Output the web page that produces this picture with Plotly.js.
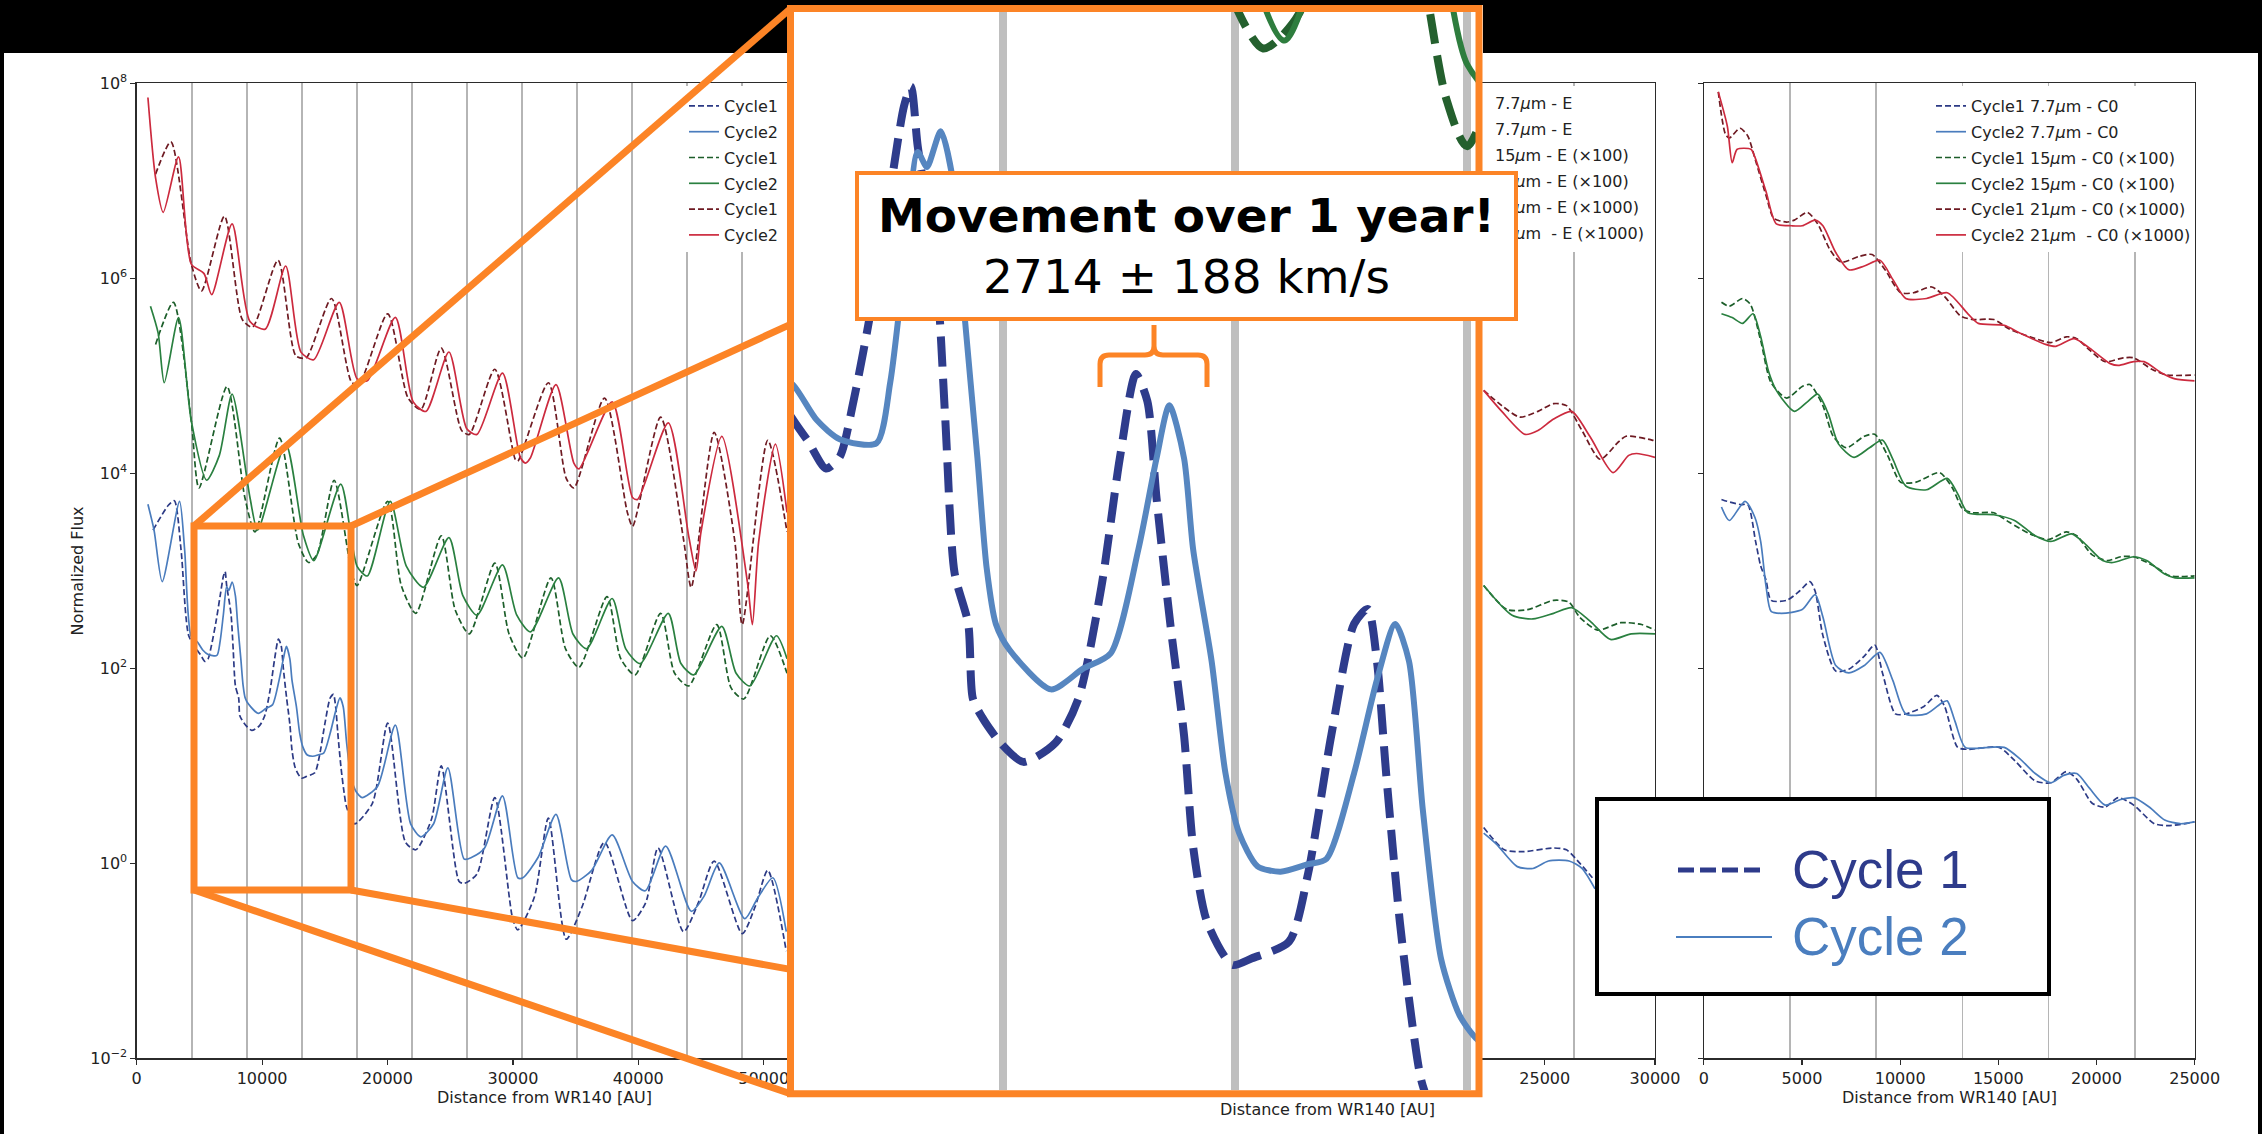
<!DOCTYPE html>
<html><head><meta charset="utf-8">
<script src="https://cdn.plot.ly/plotly-3.0.1.min.js"></script>
<style>html,body{margin:0;padding:0;background:#000;}#chart{width:2262px;height:1134px;}</style>
</head><body><div id="chart"></div>
<script>
// ---------- DATA (x: distance from WR140 in AU, y: log10 of normalized flux) ----------
// Left panel
const L_c1_77_x = [1302,2522,3000,3539,4150,4831,5090,5440,5699,5960,6307,6655,6916,7047,7175,7521,7697,7872,8131,8218,8392,8740,9173,9782,10216,10651,10999,11302,11519,11694,11954,12214,12388,12649,13126,13500,14200,14560,15000,15432,15690,15864,16037,16297,16558,16732,17370,18794,20015,21439,22252,23500,24287,25710,26117,27134,28558,29982,30388,31700,32829,34253,35500,37303,39540,40600,41575,43609,44800,46050,48288,49300,50321,51800];
const L_c1_77_y = [3.419,3.673,3.72,3.214,2.336,2.187,2.14,2.072,2.10,2.235,2.466,2.744,2.947,2.994,2.85,2.558,2.19,1.82,1.697,1.517,1.472,1.41,1.364,1.41,1.517,1.787,2.097,2.30,2.235,2.0,1.697,1.428,1.157,0.978,0.874,0.89,0.93,1.094,1.428,1.697,1.733,1.607,1.337,0.978,0.708,0.582,0.406,0.616,1.438,0.216,0.14,0.45,1.0,-0.185,-0.205,-0.109,0.674,-0.567,-0.682,-0.35,0.464,-0.778,-0.45,0.216,-0.587,-0.4,0.158,-0.701,-0.4,0.024,-0.72,-0.45,-0.071,-0.9];
const L_c2_77_x = [895,1383,2034,3417,3824,4353,4831,5265,5699,6394,6655,6916,7175,7349,7610,7872,8044,8305,8479,8653,8914,9695,10303,10825,11350,11694,11936,12214,12386,12736,12997,13254,13605,14040,14560,14909,15432,15866,16210,16470,16732,17080,17427,17731,17981,19201,20625,21846,22659,23676,24815,26117,26727,27744,29168,30388,30795,32015,33438,34659,35066,36287,37914,39540,40557,42185,44219,45235,46457,48491,49500,50729,51800];
const L_c2_77_y = [3.683,3.419,2.89,3.714,3.214,2.32,2.272,2.189,2.143,2.133,2.28,2.558,2.836,2.80,2.886,2.744,2.466,2.097,1.832,1.697,1.634,1.539,1.589,1.626,1.877,2.097,2.225,2.097,1.877,1.607,1.337,1.193,1.112,1.099,1.117,1.13,1.337,1.563,1.697,1.607,1.248,0.887,0.752,0.698,0.674,0.789,1.419,0.406,0.273,0.407,0.98,0.044,0.063,0.158,0.693,-0.147,-0.147,0.063,0.502,-0.166,-0.185,-0.071,0.292,-0.185,-0.281,0.177,-0.491,-0.338,0.005,-0.567,-0.36,-0.147,-0.7];
const L_c1_15_x = [1505,2929,4353,4963,7200,8624,9438,11391,12896,13710,14390,15744,17167,17574,20015,21100,22252,24287,25400,26524,28558,29700,30795,33032,34200,35269,37507,38600,39744,41778,42900,44015,46253,47400,48409,50525,51858];
const L_c1_15_y = [5.323,5.755,4.538,3.851,4.891,3.753,3.4,4.361,3.282,3.086,3.17,3.93,2.968,2.85,3.714,2.85,2.565,3.36,2.6,2.355,3.08,2.35,2.106,2.928,2.2,2.011,2.736,2.1,1.934,2.565,1.95,1.82,2.45,1.8,1.686,2.335,1.95];
const L_c2_15_x = [1098,1708,2197,3336,4353,5574,6590,7607,9031,9641,11879,13302,14116,16272,17574,18388,20218,21500,22862,24898,26000,27134,29168,30300,31405,33642,34800,35880,37914,39000,40151,42388,43400,44422,46660,47800,48898,51013,51858];
const L_c2_15_y = [5.715,5.441,4.93,5.598,4.538,3.93,4.185,4.813,3.753,3.419,4.302,3.36,3.105,3.89,3.047,2.948,3.714,3.05,2.832,3.341,2.75,2.546,3.061,2.55,2.374,2.928,2.35,2.202,2.717,2.2,2.049,2.565,2.05,1.934,2.431,1.95,1.82,2.335,2.1];
const L_c1_21_x = [1505,2726,4353,5167,6997,8421,9235,11269,12693,13506,15540,17167,17777,20015,21642,22659,24287,25914,26524,28558,30185,30388,32829,34253,34863,37303,39134,39540,41778,43609,44219,46050,47700,48288,50321,51858];
const L_c1_21_y = [7.07,7.40,6.147,5.872,6.638,5.578,5.5,6.186,5.205,5.185,5.794,4.93,4.93,5.637,4.773,4.656,5.284,4.44,4.4,5.068,4.145,4.126,4.93,3.95,3.851,4.773,3.596,3.458,4.577,3.321,2.831,4.42,3.3,2.45,4.34,3.4];
const L_c2_21_x = [895,1505,2115,3336,4353,5370,5980,7607,9031,10251,11879,13099,14116,16150,17574,18388,20625,22050,23067,24898,26320,27134,29168,30591,30998,31400,33438,34862,35269,37913,39540,39947,42388,44015,44600,45000,46660,48695,49100,49600,50933,51858];
const L_c2_21_y = [7.855,7.03,6.677,7.246,6.147,6.049,5.833,6.559,5.558,5.48,6.127,5.244,5.166,5.755,4.97,4.95,5.6,4.734,4.636,5.245,4.459,4.4,5.028,4.165,4.106,4.16,4.91,4.106,4.047,4.734,3.753,3.733,4.518,3.36,3.0,3.4,4.38,2.89,2.45,3.3,4.3,3.6];

// Middle panel (visible part only)
const M_c1_77_x = [22231,23170,23991,25401,25986,26576,27161];
const M_c1_77_y = [0.368,0.139,0.12,0.158,0.139,0.005,-0.147];
const M_c2_77_x = [22231,22818,23756,24463,25167,26104,26689,27279];
const M_c2_77_y = [0.311,0.196,-0.033,-0.052,0.025,0.025,-0.052,-0.262];
const M_c1_15_x = [22231,23288,24227,25401,26104,26576,27397,28454,29394,30000];
const M_c1_15_y = [2.851,2.603,2.603,2.698,2.679,2.527,2.393,2.469,2.45,2.393];
const M_c2_15_x = [22231,23520,24463,25401,26222,27043,27982,28924,30000];
const M_c2_15_y = [2.851,2.546,2.507,2.565,2.622,2.488,2.297,2.355,2.355];
const M_c1_21_x = [22231,23052,23873,24694,25401,25986,26689,27513,28336,28685,29864,30000];
const M_c1_21_y = [4.852,4.695,4.577,4.636,4.715,4.695,4.44,4.145,4.322,4.381,4.342,4.33];
const M_c2_21_x = [22231,23052,24109,24694,25401,26222,27043,28100,28807,29156,30000];
const M_c2_21_y = [4.852,4.636,4.4,4.44,4.557,4.636,4.381,4.008,4.185,4.204,4.165];

// Right panel
const R_c1_77_x = [900,1182,1900,2240,2640,2898,3165,3428,4220,4880,5405,5668,6066,6720,7385,8174,8704,9100,9760,10286,11210,11870,12265,12925,13450,15035,15824,16878,17670,18462,18992,19780,20440,21100,21890,22950,23738,25000];
const R_c1_77_y = [3.733,3.714,3.68,3.68,3.3,3.05,2.908,2.698,2.698,2.794,2.89,2.794,2.336,1.973,1.992,2.126,2.24,1.954,1.533,1.533,1.61,1.724,1.61,1.19,1.17,1.19,1.056,0.846,0.827,0.941,0.865,0.617,0.578,0.674,0.598,0.407,0.388,0.426];
const R_c2_77_x = [900,1300,2100,2600,2898,3165,3428,3957,5011,5668,6066,6720,7385,8174,8969,9625,10286,11342,12132,12397,12793,13318,14505,15299,16090,16878,17670,18330,18992,19650,20440,21230,21890,22684,23470,24262,25000];
const R_c2_77_y = [3.655,3.517,3.714,3.55,3.3,2.85,2.584,2.565,2.603,2.756,2.527,2.03,1.954,2.03,2.164,1.877,1.533,1.533,1.648,1.667,1.457,1.19,1.19,1.19,1.075,0.922,0.827,0.903,0.922,0.769,0.598,0.655,0.674,0.578,0.445,0.407,0.426];
const R_c1_15_x = [900,1300,1975,2370,2898,3428,4220,5011,5405,6066,6590,7253,8174,8704,9360,10023,10810,12000,12661,13186,13715,14770,15560,16615,17540,18462,18992,19780,20570,21230,21890,22950,23738,25000];
const R_c1_15_y = [5.755,5.715,5.794,5.735,5.362,4.93,4.773,4.891,4.911,4.695,4.381,4.263,4.381,4.401,4.185,3.91,3.91,4.008,3.851,3.635,3.596,3.596,3.498,3.38,3.322,3.4,3.361,3.164,3.106,3.145,3.145,3.047,2.949,2.949];
const R_c2_15_x = [900,1446,1975,2506,2898,3295,3693,4614,5274,5800,6330,6855,7650,8440,9100,9625,10286,11342,12397,12925,13450,14770,15824,16878,17670,18727,19390,20310,20835,21890,22550,23470,24000,25000];
const R_c2_15_y = [5.637,5.598,5.539,5.637,5.401,5.048,4.852,4.636,4.734,4.813,4.616,4.303,4.165,4.263,4.342,4.146,3.871,3.832,3.949,3.792,3.596,3.576,3.518,3.36,3.302,3.38,3.282,3.106,3.086,3.145,3.106,2.968,2.929,2.929];
const R_c1_21_x = [738,1100,1300,1844,2240,2640,3165,3560,4220,4614,5274,5800,6455,6990,7910,8570,9230,10023,10680,11607,12265,13060,13715,14770,15560,16615,17670,18462,18992,19650,20440,21360,21890,22815,23600,25000];
const R_c1_21_y = [7.913,7.48,7.44,7.54,7.46,7.206,6.854,6.618,6.578,6.598,6.677,6.559,6.284,6.167,6.226,6.245,6.088,5.853,5.853,5.912,5.814,5.617,5.578,5.578,5.48,5.401,5.342,5.401,5.382,5.264,5.146,5.185,5.185,5.068,5.009,5.009];
const R_c2_21_x = [738,1200,1446,1700,2400,2600,3165,3693,4482,5011,5668,6066,6720,7385,8174,8969,9625,10286,11342,12397,13450,13980,15299,16090,17408,17932,18860,19650,20700,21100,21890,22420,23340,24000,25000];
const R_c2_21_y = [7.913,7.56,7.187,7.324,7.324,7.246,6.893,6.559,6.54,6.54,6.598,6.54,6.265,6.088,6.127,6.186,5.99,5.794,5.794,5.853,5.637,5.539,5.519,5.44,5.323,5.303,5.382,5.284,5.126,5.107,5.146,5.146,5.028,4.97,4.95];

// Axis ticks, gridlines (periastron spacing) and labels
const xTicksLeft = [0,10000,20000,30000,40000,50000];
const xTicksMid = [25000,30000];
const xTicksRight = [0,5000,10000,15000,20000,25000];
const gridLeft = [4390,8780,13170,17560,21950,26340,30730,35120,39510,43900,48290];
const gridMid = [26340];
const gridRight = [4390,8780,13170,17560,21950];
const gridInset = [8780,13170,17560];
const yTickVals = [1e-2,1,1e2,1e4,1e6,1e8];
const yTickText = ['10<sup>−2</sup>','10<sup>0</sup>','10<sup>2</sup>','10<sup>4</sup>','10<sup>6</sup>','10<sup>8</sup>'];
const leftLegendNames = ['Cycle1','Cycle2','Cycle1','Cycle2','Cycle1','Cycle2'];
const rightLegendNames = ['Cycle1 7.7<i>μ</i>m - C0','Cycle2 7.7<i>μ</i>m - C0','Cycle1 15<i>μ</i>m - C0 (×100)','Cycle2 15<i>μ</i>m - C0 (×100)','Cycle1 21<i>μ</i>m - C0 (×1000)','Cycle2 21<i>μ</i>m\u00a0 - C0 (×1000)'];
const midLegendTexts = ['7.7<i>μ</i>m - E','7.7<i>μ</i>m - E','15<i>μ</i>m - E (×100)','15<i>μ</i>m - E (×100)','21<i>μ</i>m - E (×1000)','21<i>μ</i>m\u00a0 - E (×1000)'];
const xTitle = 'Distance from WR140 [AU]';
const yTitle = 'Normalized Flux';
const noteTitle = 'Movement over 1 year!';
const noteValue = '2714 ± 188 km/s';
const keyLabels = ['Cycle 1','Cycle 2'];

// ---------- LAYOUT HELPERS ----------
const W = 2262, H = 1134;
const px = v => v / W;
const py = v => 1 - v / H;
const pow10 = a => a.map(v => Math.pow(10, v));
const F = "'DejaVu Sans', sans-serif";
const ORANGE = '#fc8426';

const styles = [
  {color:'#2c3a85', dash:'6px,3px'},
  {color:'#4a7cbd', dash:'solid'},
  {color:'#1c5e2a', dash:'6px,3px'},
  {color:'#2a8040', dash:'solid'},
  {color:'#6e1a22', dash:'6px,3px'},
  {color:'#cc2a3e', dash:'solid'}
];
const insetStyles = [
  {color:'#2e3c8c', dash:'30px,12px', width:8},
  {color:'#5686c0', dash:'solid', width:6},
  {color:'#24602e', dash:'30px,12px', width:8},
  {color:'#2e7d3e', dash:'solid', width:6},
  {color:'#6e1a22', dash:'30px,12px', width:8},
  {color:'#cc2a3e', dash:'solid', width:6}
];

const leftSets = [[L_c1_77_x,L_c1_77_y],[L_c2_77_x,L_c2_77_y],[L_c1_15_x,L_c1_15_y],[L_c2_15_x,L_c2_15_y],[L_c1_21_x,L_c1_21_y],[L_c2_21_x,L_c2_21_y]];
const midSets = [[M_c1_77_x,M_c1_77_y],[M_c2_77_x,M_c2_77_y],[M_c1_15_x,M_c1_15_y],[M_c2_15_x,M_c2_15_y],[M_c1_21_x,M_c1_21_y],[M_c2_21_x,M_c2_21_y]];
const rightSets = [[R_c1_77_x,R_c1_77_y],[R_c2_77_x,R_c2_77_y],[R_c1_15_x,R_c1_15_y],[R_c2_15_x,R_c2_15_y],[R_c1_21_x,R_c1_21_y],[R_c2_21_x,R_c2_21_y]];

const traces = [];
leftSets.forEach((s,i) => traces.push({
  type:'scatter', mode:'lines', x:s[0], y:pow10(s[1]), xaxis:'x', yaxis:'y',
  name:leftLegendNames[i], legend:'legend', legendgroup:'L'+i,
  line:{color:styles[i].color, dash:styles[i].dash, width:1.7, shape:'spline', smoothing:0.7}
}));
midSets.forEach((s,i) => traces.push({
  type:'scatter', mode:'lines', x:s[0], y:pow10(s[1]), xaxis:'x2', yaxis:'y2', showlegend:false,
  line:{color:styles[i].color, dash:styles[i].dash, width:1.7, shape:'spline', smoothing:0.7}
}));
rightSets.forEach((s,i) => traces.push({
  type:'scatter', mode:'lines', x:s[0], y:pow10(s[1]), xaxis:'x3', yaxis:'y3',
  name:rightLegendNames[i], legend:'legend2', legendgroup:'R'+i,
  line:{color:styles[i].color, dash:styles[i].dash, width:1.7, shape:'spline', smoothing:0.7}
}));
leftSets.forEach((s,i) => traces.push({
  type:'scatter', mode:'lines', x:s[0], y:pow10(s[1]), xaxis:'x4', yaxis:'y4', showlegend:false,
  line:{color:insetStyles[i].color, dash:insetStyles[i].dash, width:insetStyles[i].width, shape:'spline', smoothing:0.7}
}));

const tickFont = {family:F, size:16, color:'#222'};
const baseAx = {showline:true, mirror:true, linecolor:'#2b2b2b', linewidth:1.3, zeroline:false, showgrid:false,
  ticks:'outside', ticklen:5, tickwidth:1.2, tickcolor:'#2b2b2b', tickfont:tickFont};
const gridMinor = vals => ({tickmode:'array', tickvals:vals, showgrid:true, gridcolor:'#b5b5b5', gridwidth:1.6, ticks:''});
const yDom = [py(1058.4), py(83.4)];

const layout = {
  width:W, height:H, autosize:false,
  margin:{l:0,r:0,t:0,b:0,pad:0},
  paper_bgcolor:'#000000', plot_bgcolor:'#ffffff',
  hovermode:false,
  xaxis: Object.assign({}, baseAx, {domain:[px(136.7), px(787)], range:[0,51858], anchor:'y',
    tickmode:'array', tickvals:xTicksLeft, tickformat:'d', minor:gridMinor(gridLeft)}),
  yaxis: Object.assign({}, baseAx, {domain:yDom, type:'log', range:[-2,8], anchor:'x',
    tickmode:'array', tickvals:yTickVals, ticktext:yTickText}),
  xaxis2: Object.assign({}, baseAx, {domain:[px(1478), px(1655)], range:[21973,30000], anchor:'y2',
    tickmode:'array', tickvals:xTicksMid, tickformat:'d', minor:gridMinor(gridMid)}),
  yaxis2: Object.assign({}, baseAx, {domain:yDom, type:'log', range:[-2,8], anchor:'x2',
    tickmode:'array', tickvals:yTickVals, showticklabels:false, ticks:''}),
  xaxis3: Object.assign({}, baseAx, {domain:[px(1703.8), px(2194.7)], range:[0,25000], anchor:'y3',
    tickmode:'array', tickvals:xTicksRight, tickformat:'d', minor:gridMinor(gridRight)}),
  yaxis3: Object.assign({}, baseAx, {domain:yDom, type:'log', range:[-2,8], anchor:'x3',
    tickmode:'array', tickvals:yTickVals, showticklabels:false}),
  xaxis4: {domain:[px(794), px(1476)], range:[4834,17738], anchor:'y4', showline:false, zeroline:false,
    tickmode:'array', tickvals:gridInset, showticklabels:false, ticks:'', showgrid:true, gridcolor:'#bfbfbf', gridwidth:8},
  yaxis4: {domain:[py(1090), py(12)], type:'log', range:[0.572,3.174], anchor:'x4', showline:false, zeroline:false,
    showgrid:false, showticklabels:false, ticks:''},
  legend: {x:px(684), y:py(89), xanchor:'left', yanchor:'top', bgcolor:'rgba(0,0,0,0)', borderwidth:0,
    font:{family:F, size:16, color:'#222'}, tracegroupgap:2, itemwidth:30},
  legend2: {x:px(1931), y:py(89), xanchor:'left', yanchor:'top', bgcolor:'rgba(0,0,0,0)', borderwidth:0,
    font:{family:F, size:16, color:'#222'}, tracegroupgap:2, itemwidth:30},
  annotations: [],
  shapes: []
};

const A = layout.annotations;
const txtFont = {family:F, size:16, color:'#222'};
const ann = (x, y, text, o) => Object.assign({xref:'paper', yref:'paper', x:px(x), y:py(y), text:text,
  showarrow:false, xanchor:'center', yanchor:'middle', font:txtFont}, o || {});
A.push(ann(76.5, 571, yTitle, {textangle:-90}));
A.push(ann(544.6, 1097, xTitle));
A.push(ann(1949, 1097, xTitle));
A.push(ann(1327, 1109, xTitle));
const midLegendY = [103.5, 129.5, 155.5, 181.5, 207.5, 233.5];
midLegendTexts.forEach((t,i) => A.push(ann(1493, midLegendY[i], t, {xanchor:'left'})));
A.push(ann(1186.5, 246, '<b>'+noteTitle+'</b><br>'+noteValue, {align:'center',
  font:{family:F, size:47, color:'#000'}, bgcolor:'#ffffff', bordercolor:ORANGE, borderwidth:4, borderpad:0,
  width:655, height:142}));
A.push(ann(1790, 869, keyLabels[0], {xanchor:'left',
  font:{family:"'Liberation Sans', Arial, sans-serif", size:53, color:'#2e3b8b'}}));
A.push(ann(1790, 936, keyLabels[1], {xanchor:'left',
  font:{family:"'Liberation Sans', Arial, sans-serif", size:53, color:'#4a7ebf'}}));

const S = layout.shapes;
const rect = (x0,y0,x1,y1,o) => Object.assign({type:'rect', xref:'paper', yref:'paper', x0:px(x0), y0:py(y0), x1:px(x1), y1:py(y1)}, o);
const line = (x0,y0,x1,y1,o) => Object.assign({type:'line', xref:'paper', yref:'paper', x0:px(x0), y0:py(y0), x1:px(x1), y1:py(y1)}, o);
S.push(rect(4,53,2258,1134,{layer:'below', fillcolor:'#ffffff', line:{width:0}}));
S.push(rect(787,5,1483,1097,{layer:'below', fillcolor:'#ffffff', line:{width:0}}));
// white legend panels hiding grid lines
S.push(rect(674,86,786,252,{layer:'above', fillcolor:'#ffffff', line:{width:0}}));
S.push(rect(1485,86,1652,252,{layer:'above', fillcolor:'#ffffff', line:{width:0}}));
S.push(rect(1920,86,2191,252,{layer:'above', fillcolor:'#ffffff', line:{width:0}}));
// zoom connectors
const oLine = {layer:'above', line:{color:ORANGE, width:7}};
S.push(line(351,526,790.5,324.4,oLine));
S.push(line(351,890,790.5,969.4,oLine));
S.push(line(194,526,790.5,8.6,oLine));
S.push(line(194,890,790.5,1093.8,oLine));
S.push(rect(194,526,351,890,{layer:'above', fillcolor:'rgba(0,0,0,0)', line:{color:ORANGE, width:7}}));
S.push(rect(790.5,8.6,1479,1093.8,{layer:'above', fillcolor:'rgba(0,0,0,0)', line:{color:ORANGE, width:7}}));
// bracket
const P = (x,y) => px(x).toFixed(5)+','+py(y).toFixed(5);
const bracket = 'M'+P(1100,387)+' L'+P(1100,364)+' Q'+P(1100,355)+' '+P(1109,355)+' L'+P(1145,355)+' Q'+P(1154,355)+' '+P(1154,346)+' L'+P(1154,325)+
  ' M'+P(1154,346)+' Q'+P(1154,355)+' '+P(1163,355)+' L'+P(1198,355)+' Q'+P(1207,355)+' '+P(1207,364)+' L'+P(1207,387);
S.push({type:'path', xref:'paper', yref:'paper', path:bracket, layer:'above', line:{color:ORANGE, width:5}});
// key box
S.push(rect(1597,799,2049,994,{layer:'above', fillcolor:'#ffffff', line:{color:'#000000', width:4}}));
S.push(line(1678,870,1760,870,{layer:'above', line:{color:'#2e3b8b', width:5, dash:'16px,6px'}}));
S.push(line(1676,937,1772,937,{layer:'above', line:{color:'#4a7ebf', width:2}}));

Plotly.newPlot('chart', traces, layout, {staticPlot:true, displayModeBar:false});
</script></body></html>
